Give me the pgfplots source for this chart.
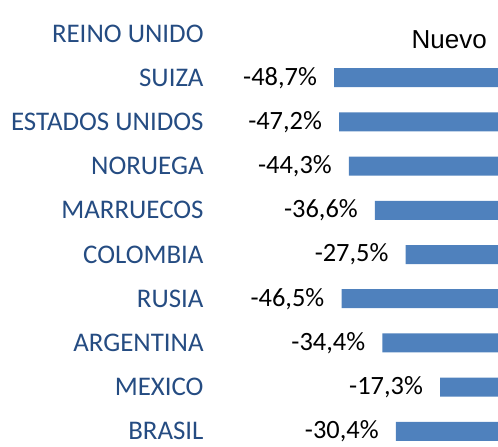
\documentclass[border=0pt]{standalone}
\usepackage{pgfplots}
\usepackage{pgfplotstable}
\pgfplotsset{compat=1.18}
\usepackage{fontspec}
\setmainfont{Carlito}
\newfontfamily\arialfont{Liberation Sans}
\definecolor{barBlue}{RGB}{79,129,189}
\definecolor{labelBlue}{RGB}{37,76,130}

\pgfplotstableread{
pos val lab
1 -48.7 -48,7
2 -47.2 -47,2
3 -44.3 -44,3
4 -36.6 -36,6
5 -27.5 -27,5
6 -46.5 -46,5
7 -34.4 -34,4
8 -17.3 -17,3
9 -30.4 -30,4
}\nuevo

\begin{document}
\begin{tikzpicture}
\path[use as bounding box] (0,0) rectangle (498bp,447bp);
\begin{axis}[
    at={(220bp,0)}, anchor=south west,
    scale only axis, width=278.5bp, height=447bp,
    xmin=-82.5, xmax=0, ymin=-0.758, ymax=9.355, y dir=reverse,
    xbar, bar width=19bp, bar shift=0pt,
    axis line style={draw=none}, tick style={draw=none},
    xtick=\empty, ytick={0,...,9},
    yticklabels={REINO UNIDO, SUIZA, ESTADOS UNIDOS, NORUEGA, MARRUECOS, COLOMBIA, RUSIA, ARGENTINA, MEXICO, BRASIL},
    yticklabel style={font=\fontsize{26.9bp}{30bp}\selectfont, text=labelBlue, anchor=east, inner sep=0pt, xshift=-12bp},
    point meta=explicit symbolic,
    nodes near coords={\pgfplotspointmeta\%},
    every node near coord/.append style={font=\fontsize{26.4bp}{30bp}\selectfont, text=black, anchor=east, inner sep=0pt, xshift=-17bp},
    clip=false,
]
\addplot[fill=barBlue, draw=none] table[x=val, y=pos, meta=lab] {\nuevo};
\node[anchor=base, font=\arialfont\fontsize{26bp}{30bp}\selectfont] at (axis cs:-14.6,0.33) {Nuevo};
\end{axis}
\end{tikzpicture}
\end{document}
